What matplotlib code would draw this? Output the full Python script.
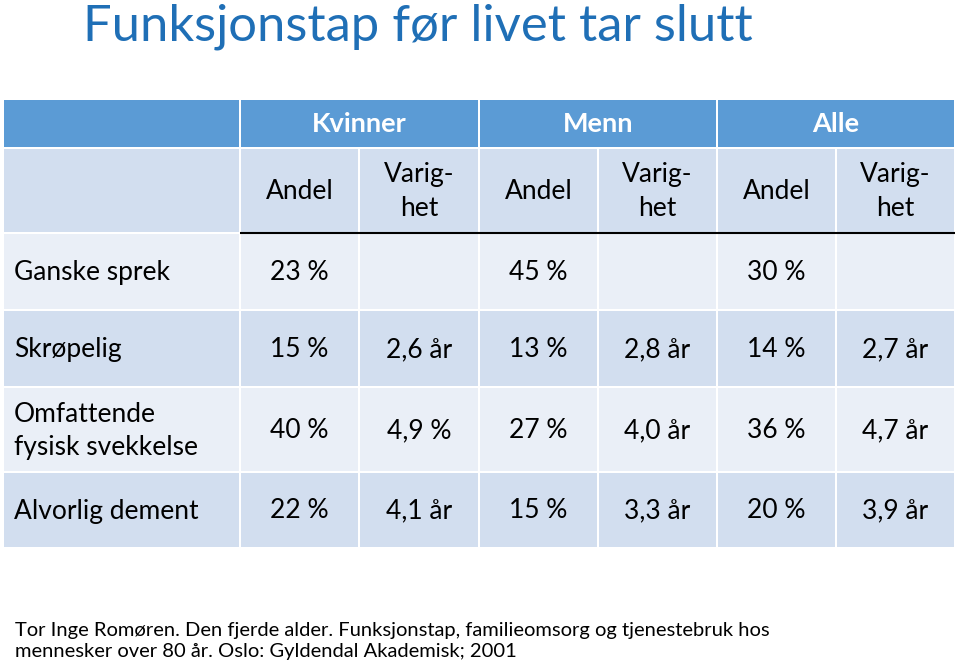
import matplotlib.pyplot as plt
from matplotlib.patches import Rectangle

plt.rcParams['font.family'] = ['Lato', 'DejaVu Sans']

title = 'Funksjonstap før livet tar slutt'
groups = ['Kvinner', 'Menn', 'Alle']
sub_headers = ['Andel', 'Varig-\nhet'] * 3
row_labels = ['Ganske sprek', 'Skrøpelig', 'Omfattende\nfysisk svekkelse', 'Alvorlig dement']
kvinner = [['23 %', ''], ['15 %', '2,6 år'], ['40 %', '4,9 %'], ['22 %', '4,1 år']]
menn = [['45 %', ''], ['13 %', '2,8 år'], ['27 %', '4,0 år'], ['15 %', '3,3 år']]
alle = [['30 %', ''], ['14 %', '2,7 år'], ['36 %', '4,7 år'], ['20 %', '3,9 år']]
source = ('Tor Inge Romøren. Den fjerde alder. Funksjonstap, familieomsorg og tjenestebruk hos\n'
          'mennesker over 80 år. Oslo: Gyldendal Akademisk; 2001')

col_edges = [3, 240, 359, 479, 598, 717, 836, 955]
head_rows = [(99, 148), (148, 233)]
row_edges = [(233, 310), (310, 387), (387, 472), (472, 548)]

blue = '#5B9BD5'
dark = '#D2DEEF'
light = '#EAEFF7'
row_colors = [light, dark, light, dark]
gap = 1.4

fig = plt.figure(figsize=(9.6, 6.67), dpi=100)
ax = fig.add_axes([0, 0, 1, 1])
ax.set_xlim(0, 960)
ax.set_ylim(667, 0)
ax.axis('off')


def cell(x0, x1, y0, y1, color):
    ax.add_patch(Rectangle((x0 + gap, y0 + gap), x1 - x0 - 2 * gap, y1 - y0 - 2 * gap,
                           facecolor=color, edgecolor='none'))


ax.text(83, 27, title, fontsize=36.5, color='#1F6FB6', va='center', ha='left')

# header row 1
y0, y1 = head_rows[0]
cell(col_edges[0], col_edges[1], y0, y1, blue)
for g, name in enumerate(groups):
    xa, xb = col_edges[1 + 2 * g], col_edges[3 + 2 * g]
    cell(xa, xb, y0, y1, blue)
    ax.text((xa + xb) / 2, (y0 + y1) / 2 + 1, name, fontsize=19.5, fontweight='bold',
            color='white', ha='center', va='center')

# header row 2
y0, y1 = head_rows[1]
cell(col_edges[0], col_edges[1], y0, y1, dark)
for j, lab in enumerate(sub_headers):
    xa, xb = col_edges[1 + j], col_edges[2 + j]
    cell(xa, xb, y0, y1, dark)
    ax.text((xa + xb) / 2, (y0 + y1) / 2 + 1, lab, fontsize=19, ha='center', va='center',
            linespacing=1.45, color='black')
ax.plot([col_edges[1], col_edges[-1]], [233, 233], color='black', lw=1.5, solid_capstyle='butt')

# body
for i, lab in enumerate(row_labels):
    y0, y1 = row_edges[i]
    yc = (y0 + y1) / 2 + 1
    cell(col_edges[0], col_edges[1], y0, y1, row_colors[i])
    ax.text(14, yc, lab, fontsize=19, ha='left', va='center', linespacing=1.4, color='black')
    vals = kvinner[i] + menn[i] + alle[i]
    for j, v in enumerate(vals):
        xa, xb = col_edges[1 + j], col_edges[2 + j]
        cell(xa, xb, y0, y1, row_colors[i])
        ax.text((xa + xb) / 2, yc, v, fontsize=19, ha='center', va='center', color='black')

ax.text(15, 641, source, fontsize=14.5, ha='left', va='center', linespacing=1.25, color='black')

fig.savefig('out.png', dpi=100)
